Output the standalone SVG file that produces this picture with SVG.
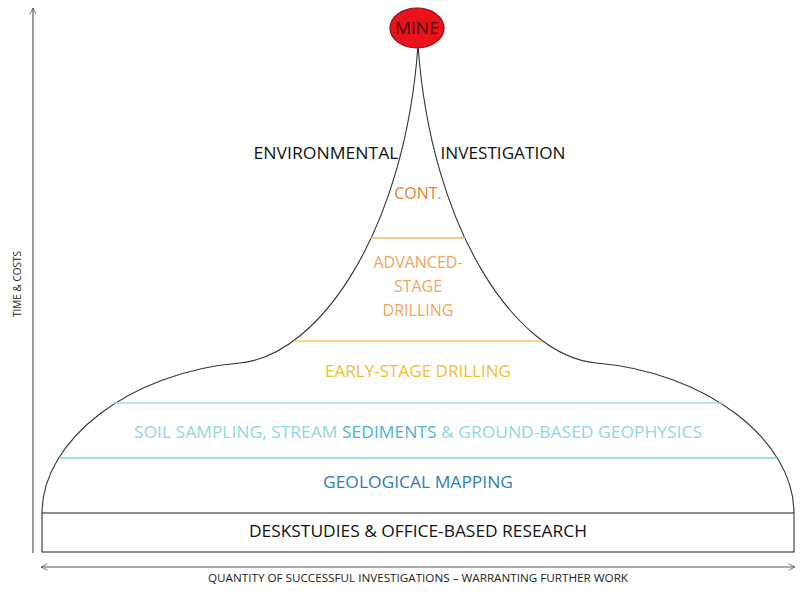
<svg xmlns="http://www.w3.org/2000/svg" width="800" height="600" viewBox="0 0 800 600">
<defs>
<marker id="arr" viewBox="0 0 10 10" refX="9" refY="5" markerWidth="8" markerHeight="8" orient="auto-start-reverse" markerUnits="userSpaceOnUse">
<path d="M1,1 L9,5 L1,9" fill="none" stroke="#555" stroke-width="1"/>
</marker>
<style>
text{font-family:"Open Sans","Noto Sans","Liberation Sans",sans-serif;text-anchor:middle}
.ax{stroke:#555;stroke-width:1.2;fill:none}
.out{stroke:#333;stroke-width:1.1;fill:none}
</style>
</defs>
<rect width="800" height="600" fill="#fff"/>
<g id="connectors">
<line class="ax" x1="33" y1="553" x2="33" y2="8" marker-end="url(#arr)"/>
<line class="ax" x1="41" y1="567" x2="795" y2="567" marker-start="url(#arr)" marker-end="url(#arr)"/>
</g>
<g id="axis-labels">
<text x="21" y="284" font-size="10" fill="#222" transform="rotate(-90 21 284)">TIME &amp; COSTS</text>
<text x="418" y="582" font-size="10" fill="#222" textLength="420" lengthAdjust="spacingAndGlyphs">QUANTITY OF SUCCESSFUL INVESTIGATIONS – WARRANTING FURTHER WORK</text>
</g>
<g id="outline">
<path class="out" d="M42,513 C42,440 130,372 240,363 C320,355 405,230 418,45 C431,230 516,355 596,363 C706,372 794,440 794,513"/>
</g>
<g id="desk">
<rect x="42" y="513" width="752" height="39" fill="#fff" stroke="#333" stroke-width="1.1"/>
<text x="418" y="537" font-size="16" fill="#111" textLength="338" lengthAdjust="spacingAndGlyphs">DESKSTUDIES &amp; OFFICE-BASED RESEARCH</text>
</g>
<g id="geo">
<line x1="59" y1="458" x2="777" y2="458" stroke="#7fcfe0" stroke-width="1.5"/>
<text x="418" y="488" font-size="16" fill="#2e7db5" textLength="190" lengthAdjust="spacingAndGlyphs">GEOLOGICAL MAPPING</text>
</g>
<g id="soil">
<line x1="113" y1="403" x2="723" y2="403" stroke="#9fdbe8" stroke-width="1.5"/>
<text x="418" y="438" font-size="16" fill="#93d5e4" textLength="568" lengthAdjust="spacingAndGlyphs">SOIL SAMPLING, STREAM <tspan fill="#4fb3cf">SEDIMENTS</tspan> &amp; GROUND-BASED GEOPHYSICS</text>
</g>
<g id="early">
<line x1="294" y1="341" x2="542" y2="341" stroke="#f5cf60" stroke-width="1.3"/>
<text x="418" y="377" font-size="16" fill="#eec12e" textLength="186" lengthAdjust="spacingAndGlyphs">EARLY-STAGE DRILLING</text>
</g>
<g id="advanced">
<line x1="371" y1="238" x2="465" y2="238" stroke="#f2b878" stroke-width="1.3"/>
<text x="418" y="268" font-size="16" fill="#efa660">ADVANCED-</text>
<text x="418" y="292" font-size="16" fill="#efa660">STAGE</text>
<text x="418" y="316" font-size="16" fill="#efa660">DRILLING</text>
</g>
<g id="cont">
<text x="418" y="199" font-size="16" fill="#e8812f">CONT.</text>
</g>
<g id="env">
<text x="326" y="159" font-size="16" fill="#111" textLength="145" lengthAdjust="spacingAndGlyphs">ENVIRONMENTAL</text>
<text x="503" y="159" font-size="16" fill="#111" textLength="125" lengthAdjust="spacingAndGlyphs">INVESTIGATION</text>
</g>
<g id="mine">
<ellipse cx="417" cy="28" rx="27" ry="20" fill="#e8131b" stroke="#8a1010" stroke-width="1.2"/>
<text x="417" y="34" font-size="16" fill="#4a0808" textLength="44" lengthAdjust="spacingAndGlyphs">MINE</text>
</g>
</svg>
